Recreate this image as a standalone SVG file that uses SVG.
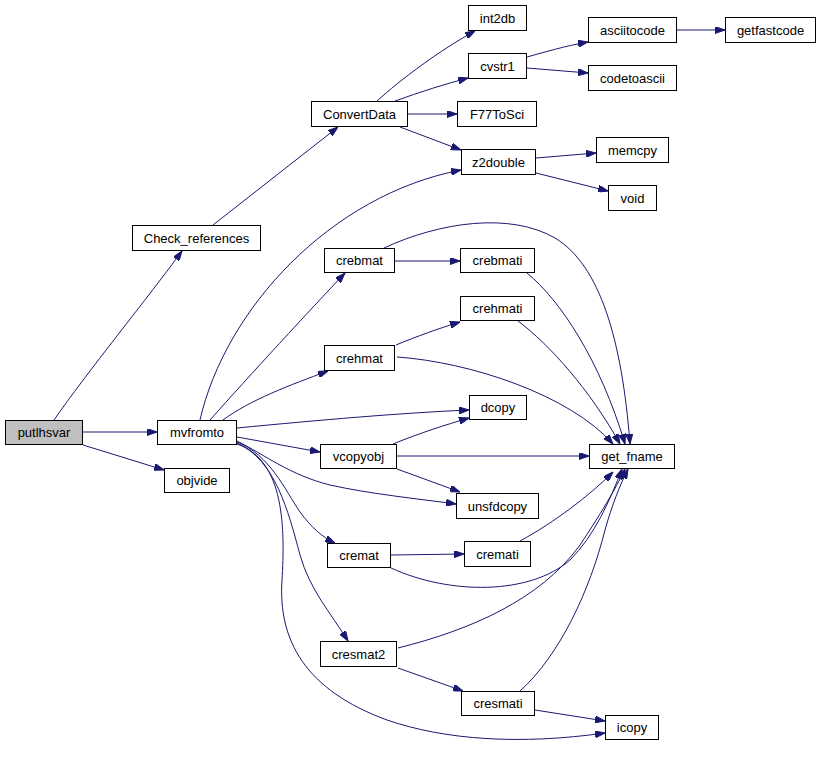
<svg xmlns="http://www.w3.org/2000/svg" width="821" height="762" viewBox="0 0 821 762">
<style>
.n rect{fill:#fff;stroke:#000;stroke-width:1}
.n text{font-family:"Liberation Sans",Arial,sans-serif;font-size:13px;text-anchor:middle;fill:#000}
#edges path{fill:none;stroke:#191970;stroke-width:1;marker-end:url(#ah)}
</style>
<defs>
<marker id="ah" viewBox="0 0 10 7" refX="10" refY="3.5" markerWidth="10" markerHeight="7" markerUnits="userSpaceOnUse" orient="auto">
<path d="M0,0 L10,3.5 L0,7 Z" fill="#191970" stroke="#191970"/>
</marker>
</defs>
<rect width="821" height="762" fill="#fff"/>
<g id="edges">
<path d="M54,420 C85,375 150,295 182,251"/>
<path d="M83,432 L157,432"/>
<path d="M83,445 L164,470"/>
<path d="M213,225 L338,127"/>
<path d="M377,101 C400,80 440,50 475,31"/>
<path d="M395,101 C420,92 445,84 468,78"/>
<path d="M408,114 L457,114"/>
<path d="M400,127 L461,150"/>
<path d="M527,57 C545,52 565,46 588,42"/>
<path d="M527,68 L588,73"/>
<path d="M677,30 L725,30"/>
<path d="M536,158 L596,153"/>
<path d="M536,173 L608,191"/>
<path d="M200,420 C225,310 330,195 461,170"/>
<path d="M210,420 C250,375 310,310 345,273"/>
<path d="M223,420 C250,400 290,385 328,371"/>
<path d="M237,428 C320,420 400,413 469,410"/>
<path d="M237,437 L320,452"/>
<path d="M237,441 C265,455 290,475 330,485 C370,494 420,499 456,504"/>
<path d="M237,442 C270,455 285,490 300,512 C312,528 322,537 335,543"/>
<path d="M237,443 C275,460 288,510 300,555 C310,590 330,612 348,641"/>
<path d="M237,444 C285,460 285,530 282,580 C278,640 305,690 387,720 C445,740 520,745 605,733"/>
<path d="M393,444 C420,433 445,425 469,418"/>
<path d="M397,456 L589,456"/>
<path d="M397,469 L460,492"/>
<path d="M395,261 L460,261"/>
<path d="M384,248 C440,222 510,212 555,238 C600,265 622,340 630,444"/>
<path d="M527,273 C560,300 600,360 625,444"/>
<path d="M396,345 C415,337 440,328 460,322"/>
<path d="M518,321 C550,345 590,390 620,444"/>
<path d="M397,357 C470,362 570,395 613,444"/>
<path d="M391,555 L464,554"/>
<path d="M391,568 C450,595 530,595 570,560 C595,535 610,500 622,469"/>
<path d="M520,541 C555,522 590,495 613,472"/>
<path d="M398,648 C470,630 540,600 580,545 C600,515 615,490 625,469"/>
<path d="M398,668 L463,691"/>
<path d="M520,691 C560,655 590,590 605,530 C612,505 620,485 628,469"/>
<path d="M535,710 L605,721"/>
</g>
<g id="putlhsvar" class="n"><rect x="5.5" y="420.5" width="77" height="24" style="fill:#bfbfbf"/><text x="44" y="437">putlhsvar</text></g>
<g id="mvfromto" class="n"><rect x="157.5" y="420.5" width="79" height="24"/><text x="197" y="437">mvfromto</text></g>
<g id="objvide" class="n"><rect x="164.5" y="468.5" width="65" height="24"/><text x="197" y="485">objvide</text></g>
<g id="Check_references" class="n"><rect x="132.5" y="225.5" width="128" height="25"/><text x="196.5" y="242.5">Check_references</text></g>
<g id="ConvertData" class="n"><rect x="311.5" y="101.5" width="96" height="25"/><text x="359.5" y="118.5">ConvertData</text></g>
<g id="int2db" class="n"><rect x="468.5" y="5.5" width="58" height="25"/><text x="497.5" y="22.5">int2db</text></g>
<g id="cvstr1" class="n"><rect x="468.5" y="53.5" width="58" height="25"/><text x="497.5" y="70.5">cvstr1</text></g>
<g id="asciitocode" class="n"><rect x="588.5" y="17.5" width="88" height="25"/><text x="632.5" y="34.5">asciitocode</text></g>
<g id="getfastcode" class="n"><rect x="725.5" y="17.5" width="90" height="25"/><text x="770.5" y="34.5">getfastcode</text></g>
<g id="codetoascii" class="n"><rect x="588.5" y="65.5" width="88" height="25"/><text x="632.5" y="82.5">codetoascii</text></g>
<g id="F77ToSci" class="n"><rect x="457.5" y="101.5" width="79" height="25"/><text x="497" y="118.5">F77ToSci</text></g>
<g id="z2double" class="n"><rect x="461.5" y="149.5" width="74" height="25"/><text x="498.5" y="166.5">z2double</text></g>
<g id="memcpy" class="n"><rect x="596.5" y="137.5" width="72" height="25"/><text x="632.5" y="154.5">memcpy</text></g>
<g id="void" class="n"><rect x="608.5" y="185.5" width="48" height="25"/><text x="632.5" y="202.5">void</text></g>
<g id="crebmat" class="n"><rect x="324.5" y="248.5" width="70" height="24"/><text x="359.5" y="265">crebmat</text></g>
<g id="crebmati" class="n"><rect x="460.5" y="248.5" width="74" height="24"/><text x="497.5" y="265">crebmati</text></g>
<g id="crehmati" class="n"><rect x="460.5" y="296.5" width="74" height="24"/><text x="497.5" y="313">crehmati</text></g>
<g id="crehmat" class="n"><rect x="324.5" y="345.5" width="70" height="25"/><text x="359.5" y="362.5">crehmat</text></g>
<g id="dcopy" class="n"><rect x="469.5" y="395.5" width="57" height="24"/><text x="498" y="412">dcopy</text></g>
<g id="vcopyobj" class="n"><rect x="320.5" y="444.5" width="76" height="24"/><text x="358.5" y="461">vcopyobj</text></g>
<g id="get_fname" class="n"><rect x="589.5" y="444.5" width="85" height="24"/><text x="632" y="461">get_fname</text></g>
<g id="unsfdcopy" class="n"><rect x="456.5" y="493.5" width="82" height="25"/><text x="497.5" y="510.5">unsfdcopy</text></g>
<g id="cremat" class="n"><rect x="327.5" y="543.5" width="63" height="24"/><text x="359" y="560">cremat</text></g>
<g id="cremati" class="n"><rect x="464.5" y="541.5" width="66" height="25"/><text x="497.5" y="558.5">cremati</text></g>
<g id="cresmat2" class="n"><rect x="320.5" y="641.5" width="76" height="25"/><text x="358.5" y="658.5">cresmat2</text></g>
<g id="cresmati" class="n"><rect x="461.5" y="691.5" width="73" height="24"/><text x="498" y="708">cresmati</text></g>
<g id="icopy" class="n"><rect x="605.5" y="715.5" width="53" height="24"/><text x="632" y="732">icopy</text></g>
</svg>
